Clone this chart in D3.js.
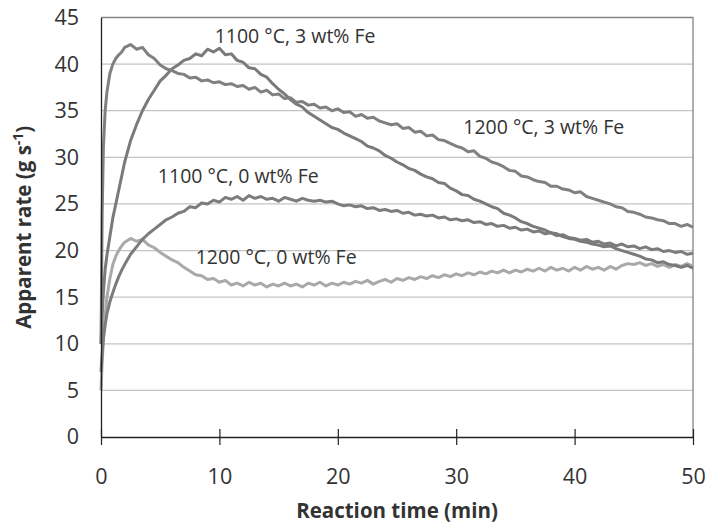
<!DOCTYPE html>
<html>
<head>
<meta charset="utf-8">
<script src="https://cdn.jsdelivr.net/npm/d3@7"></script>
<style>
  body { margin: 0; background: #fff; }
  text { font-family: "Open Sans", sans-serif; fill: #333; }
</style>
</head>
<body>
<svg id="chart"></svg>
<script>
// reaction time (min), shared by all four runs
var time = [0, 0.1, 0.2, 0.35, 0.5, 0.75, 1, 1.25, 1.5, 1.75, 2,
  2.5, 3, 3.5, 4, 4.5, 5, 5.5, 6, 6.5, 7, 7.5, 8, 8.5, 9, 9.5, 10,
  10.5, 11, 11.5, 12, 12.5, 13, 13.5, 14, 14.5, 15, 15.5, 16, 16.5, 17, 17.5, 18, 18.5, 19, 19.5, 20,
  20.5, 21, 21.5, 22, 22.5, 23, 23.5, 24, 24.5, 25, 25.5, 26, 26.5, 27, 27.5, 28, 28.5, 29, 29.5, 30,
  30.5, 31, 31.5, 32, 32.5, 33, 33.5, 34, 34.5, 35, 35.5, 36, 36.5, 37, 37.5, 38, 38.5, 39, 39.5, 40,
  40.5, 41, 41.5, 42, 42.5, 43, 43.5, 44, 44.5, 45, 45.5, 46, 46.5, 47, 47.5, 48, 48.5, 49, 49.5, 50];

// apparent rate (g s-1)
var rate1200Fe3 = [10, 24, 31, 35, 37, 39, 40, 40.6, 41, 41.3, 41.8,
  42.1, 41.6, 41.8, 41.0, 40.6, 39.9, 39.5, 39.3, 39.0, 38.9, 38.5, 38.6, 38.2, 38.3, 38.0, 38.1,
  37.8, 37.9, 37.6, 37.7, 37.3, 37.5, 37.0, 37.2, 36.7, 36.8, 36.3, 36.4, 35.9, 36.0, 35.6, 35.7, 35.3, 35.4, 35.0, 35.2,
  34.8, 34.9, 34.4, 34.6, 34.2, 34.3, 33.9, 33.7, 33.5, 33.6, 33.1, 33.2, 32.7, 32.8, 32.3, 32.4, 31.9, 31.8, 31.5, 31.2,
  31.0, 30.6, 30.7, 30.1, 29.9, 29.5, 29.3, 29.0, 28.6, 28.5, 28.0, 27.9, 27.6, 27.4, 27.3, 26.9, 26.9, 26.6, 26.5, 26.2,
  26.3, 25.8, 25.6, 25.4, 25.2, 25.0, 24.7, 24.6, 24.2, 24.1, 23.9, 23.6, 23.5, 23.3, 23.2, 22.9, 22.9, 22.6, 22.8, 22.5];

var rate1100Fe3 = [10, 13, 15.5, 18, 19.5, 21.5, 23.5, 25, 26.5, 28, 29.5,
  31.8, 33.5, 35.0, 36.2, 37.2, 38.2, 38.8, 39.5, 39.9, 40.4, 40.6, 41.1, 40.9, 41.6, 41.3, 41.7,
  41.0, 41.1, 40.4, 40.2, 39.6, 39.5, 38.9, 38.6, 37.9, 37.3, 36.8, 36.2, 35.7, 35.4, 34.8, 34.4, 34.0, 33.6, 33.2, 33.0,
  32.6, 32.3, 32.0, 31.7, 31.2, 31.0, 30.7, 30.2, 29.9, 29.5, 29.2, 28.8, 28.6, 28.2, 27.9, 27.7, 27.3, 27.2, 26.7, 26.4,
  26.0, 25.9, 25.5, 25.3, 25.0, 24.7, 24.5, 24.0, 23.8, 23.5, 23.1, 22.9, 22.6, 22.4, 22.2, 21.9, 21.8, 21.5, 21.3, 21.2,
  21.0, 20.9, 20.7, 20.6, 20.4, 20.5, 20.2, 20.0, 19.8, 19.6, 19.4, 19.1, 19.0, 18.7, 18.8, 18.5, 18.4, 18.2, 18.4, 18.1];

var rate1100Fe0 = [7, 9, 10.5, 12, 13.2, 14.5, 15.5, 16.4, 17.2, 17.9, 18.5,
  19.6, 20.4, 21.2, 21.8, 22.3, 22.8, 23.3, 23.6, 24.0, 24.2, 24.7, 24.6, 25.1, 25.0, 25.4, 25.2,
  25.7, 25.5, 25.8, 25.4, 25.9, 25.6, 25.8, 25.5, 25.6, 25.3, 25.7, 25.5, 25.3, 25.6, 25.4, 25.3, 25.4, 25.2, 25.3, 25.0,
  24.8, 24.9, 24.7, 24.8, 24.5, 24.6, 24.3, 24.4, 24.2, 24.3, 24.0, 24.1, 23.8, 23.9, 23.7, 23.8, 23.5, 23.6, 23.3, 23.4,
  23.2, 23.3, 23.0, 23.1, 22.8, 22.9, 22.6, 22.7, 22.4, 22.5, 22.2, 22.3, 22.0, 22.1, 21.8, 21.9, 21.6, 21.7, 21.4, 21.3,
  21.1, 21.2, 20.9, 21.0, 20.7, 20.8, 20.5, 20.7, 20.4, 20.5, 20.2, 20.4, 20.1, 20.2, 19.9, 20.0, 19.8, 19.9, 19.6, 19.7];

var rate1200Fe0 = [5, 8, 10.5, 13, 15, 17, 18.5, 19.4, 20.0, 20.5, 20.9,
  21.3, 21.0, 21.2, 20.6, 20.3, 19.8, 19.4, 19.0, 18.7, 18.2, 17.8, 17.4, 17.3, 16.9, 17.0, 16.6,
  16.8, 16.3, 16.5, 16.2, 16.6, 16.3, 16.5, 16.1, 16.4, 16.2, 16.5, 16.2, 16.4, 16.1, 16.5, 16.3, 16.6, 16.2, 16.5, 16.3,
  16.6, 16.4, 16.7, 16.5, 16.8, 16.4, 16.7, 16.9, 16.6, 17.0, 16.8, 17.1, 16.9, 17.2, 17.0, 17.3, 17.1, 17.4, 17.2, 17.5,
  17.3, 17.6, 17.4, 17.7, 17.5, 17.8, 17.6, 17.9, 17.6, 17.9, 17.7, 18.0, 17.8, 18.1, 17.8, 18.2, 17.9, 18.1, 17.8, 18.2,
  17.9, 18.3, 18.0, 18.2, 17.9, 18.3, 18.0, 18.4, 18.6, 18.5, 18.7, 18.4, 18.6, 18.3, 18.5, 18.2, 18.5, 18.3, 18.6, 18.3];

var xTicks = [0, 10, 20, 30, 40, 50];
var yTicks = [0, 5, 10, 15, 20, 25, 30, 35, 40, 45];

// series drawn in this order, label anchor given in data units
var series = [
  { name: "1200 °C, 0 wt% Fe", values: rate1200Fe0, color: "#a9a9a9", lx: 8.0, ly: 18.6 },
  { name: "1100 °C, 0 wt% Fe", values: rate1100Fe0, color: "#7c7c7c", lx: 4.8, ly: 27.3 },
  { name: "1100 °C, 3 wt% Fe", values: rate1100Fe3, color: "#7a7a7a", lx: 9.6, ly: 42.3 },
  { name: "1200 °C, 3 wt% Fe", values: rate1200Fe3, color: "#808080", lx: 30.6, ly: 32.5 }
];

var svgWidth = 711, svgHeight = 529;
var margin = { top: 17.5, right: 18, bottom: 92, left: 101 };
var width = svgWidth - margin.left - margin.right;
var height = svgHeight - margin.top - margin.bottom;

var svg = d3.select("#chart")
  .attr("width", svgWidth)
  .attr("height", svgHeight);

var g = svg.append("g")
  .attr("transform", "translate(" + margin.left + "," + margin.top + ")");

var x = d3.scaleLinear().domain([0, 50]).range([0, width]);
var y = d3.scaleLinear().domain([0, 45]).range([height, 0]);

// horizontal gridlines
g.append("g")
  .selectAll("line")
  .data(yTicks.filter(function(d) { return d > 0 && d < 45; }))
  .enter().append("line")
  .attr("x1", 0).attr("x2", width)
  .attr("y1", function(d) { return y(d); })
  .attr("y2", function(d) { return y(d); })
  .attr("stroke", "#c4c4c4")
  .attr("stroke-width", 1.2);

// top and right border of the plot area
g.append("path")
  .attr("d", "M0," + y(45) + "H" + x(50) + "V" + y(0))
  .attr("fill", "none")
  .attr("stroke", "#858585")
  .attr("stroke-width", 1.3);

// lines
var line = d3.line()
  .x(function(d, i) { return x(time[i]); })
  .y(function(d) { return y(d); });

series.forEach(function(s) {
  g.append("path")
    .datum(s.values)
    .attr("fill", "none")
    .attr("stroke", s.color)
    .attr("stroke-width", 3)
    .attr("stroke-linejoin", "round")
    .attr("d", line);
});

// series labels
series.forEach(function(s) {
  g.append("text")
    .attr("x", x(s.lx))
    .attr("y", y(s.ly))
    .attr("font-size", 19.5)
    .text(s.name);
});

// y axis
var yAxis = g.append("g")
  .call(d3.axisLeft(y).tickValues(yTicks).tickSize(0).tickPadding(22));
yAxis.select(".domain").attr("stroke", "#222").attr("stroke-width", 1.3);
yAxis.selectAll("text").attr("font-size", 21.5).attr("fill", "#333")
  .style("font-family", "'Open Sans', sans-serif");

// x axis, ticks straddle the axis line
var xAxis = g.append("g")
  .attr("transform", "translate(0," + height + ")")
  .call(d3.axisBottom(x).tickValues(xTicks).tickSizeInner(8).tickSizeOuter(0).tickPadding(24));
xAxis.select(".domain").attr("stroke", "#222").attr("stroke-width", 1.3);
xAxis.selectAll(".tick line").attr("y1", -8).attr("stroke", "#222").attr("stroke-width", 1.2);
xAxis.selectAll("text").attr("font-size", 21.5).attr("fill", "#333")
  .style("font-family", "'Open Sans', sans-serif");

// axis titles
svg.append("text")
  .attr("x", margin.left + width / 2)
  .attr("y", 518)
  .attr("text-anchor", "middle")
  .attr("font-size", 20.5)
  .attr("font-weight", "bold")
  .text("Reaction time (min)");

var yTitle = svg.append("text")
  .attr("transform", "translate(31," + (margin.top + height / 2) + ") rotate(-90)")
  .attr("text-anchor", "middle")
  .attr("font-size", 20.5)
  .attr("font-weight", "bold");
yTitle.append("tspan").text("Apparent rate (g s");
yTitle.append("tspan").attr("dy", -8).attr("font-size", 14).text("-1");
yTitle.append("tspan").attr("dy", 8).text(")");
</script>
</body>
</html>
